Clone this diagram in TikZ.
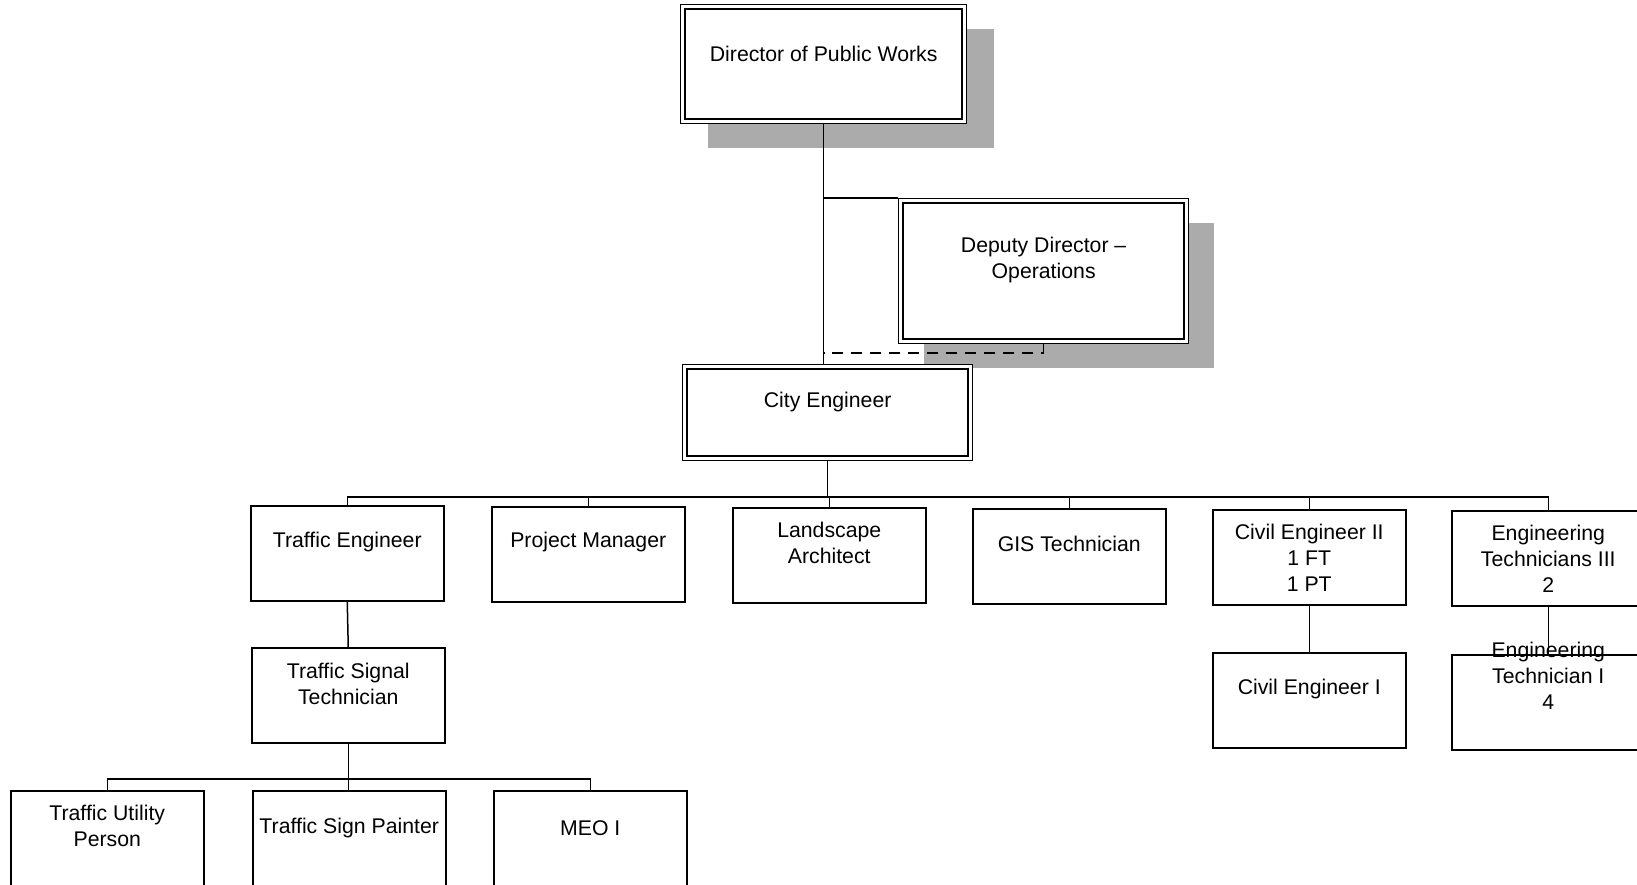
\documentclass[tikz,border=0pt]{standalone}
\usepackage{fontspec}
\setmainfont{Liberation Sans}
\usetikzlibrary{shadows,calc}
\begin{document}
\begin{tikzpicture}[x=1pt,y=-1pt,
  box/.style={draw, line width=1.5pt, fill=white, minimum width=193pt,
    minimum height=95pt, inner sep=0pt, anchor=north west},
  headbox/.style={draw, line width=1.3pt, fill=white, inner sep=0pt, anchor=north west},
  shade/.style={drop shadow={shadow xshift=#1, shadow yshift=-24pt, fill=black!33, opacity=1}},
  lbl/.style={font=\fontsize{21.25pt}{26pt}\selectfont, align=center, inner sep=0pt},
  link/.style={line width=1.5pt}]
\useasboundingbox (0,0) rectangle (1637,885);

% head office boxes (double frame)
\node[headbox, shade=27pt, minimum width=286pt, minimum height=119pt] (dir) at (680,4) {};
\node[headbox, shade=25pt, minimum width=290pt, minimum height=145pt] (dep) at (898,198) {};
\node[headbox, minimum width=290pt, minimum height=96pt] (ce) at (682,364) {};
\foreach \n in {dir,dep,ce}
  \draw[line width=2pt] ([shift={(5pt,-5pt)}]\n.north west) rectangle ([shift={(-5pt,5pt)}]\n.south east);

% second level
\node[box] (te)  at (250,505) {};
\node[box] (pm)  at (491,506) {};
\node[box] (la)  at (732,507) {};
\node[box] (gis) at (972,508) {};
\node[box] (ce2) at (1212,509) {};
\node[box] (et3) at (1451,510) {};

% third level
\node[box] (tst) at (251,647) {};
\node[box] (ce1) at (1212,652) {};
\node[box] (et1) at (1451,654) {};

% fourth level
\node[box] (tup) at (10,790) {};
\node[box] (tsp) at (252,790) {};
\node[box] (meo) at (493,790) {};

% connector helpers
\coordinate (bus1) at (827,497);
\coordinate (bus2) at (348,779);
\coordinate (depin) at (898,198);
\coordinate (dashend) at (825,353);

% connectors
\draw[link] (dir.south) -- (dir.south |- ce.north);
\draw[link] (dir.south |- depin) -- (depin);
\draw[link, dash pattern=on 11pt off 8pt] (dep.south) |- (dir.south |- dashend);
\draw[link] (ce.south) -- (ce.south |- bus1);
\draw[link] (te.north) -- (te.north |- bus1) -- (et3.north |- bus1) -- (et3.north);
\foreach \n in {pm,la,gis,ce2}
  \draw[link] (\n.north) -- (\n.north |- bus1);
\draw[link] (te.south) -- (tst.north);
\draw[link] (ce2.south) -- (ce1.north);
\draw[link] (et3.south) -- (et1.north);
\draw[link] (tst.south) -- (tst.south |- tsp.north);
\draw[link] (tup.north) -- (tup.north |- bus2) -- (meo.north |- bus2) -- (meo.north);

% labels
\node[lbl] (dir-t) at ([yshift=-50pt]dir.north) {Director of Public Works};
\node[lbl] (dep-t) at ([yshift=-62pt]dep.north) {Deputy Director –\\Operations};
\node[lbl] (ce-t)  at ([yshift=-38pt]ce.north)  {City Engineer};
\node[lbl] (te-t)  at ([yshift=-37pt]te.north)  {Traffic Engineer};
\node[lbl] (pm-t)  at ([yshift=-36pt]pm.north)  {Project Manager};
\node[lbl] (la-t)  at ([yshift=-36pt]la.north)  {Landscape\\Architect};
\node[lbl] (gis-t) at ([yshift=-36pt]gis.north) {GIS Technician};
\node[lbl] (ce2-t) at ([yshift=-49pt]ce2.north) {Civil Engineer II\\1 FT\\1 PT};
\node[lbl] (et3-t) at ([yshift=-49pt]et3.north) {Engineering\\Technicians III\\2};
\node[lbl] (tst-t) at ([yshift=-37pt]tst.north) {Traffic Signal\\Technician};
\node[lbl] (ce1-t) at ([yshift=-37pt]ce1.north) {Civil Engineer I};
\node[lbl] (et1-t) at ([yshift=-22pt]et1.north) {Engineering\\Technician I\\4};
\node[lbl] (tup-t) at ([yshift=-36pt]tup.north) {Traffic Utility\\Person};
\node[lbl] (tsp-t) at ([yshift=-38pt]tsp.north) {Traffic Sign Painter};
\node[lbl] (meo-t) at ([yshift=-38pt]meo.north) {MEO I};
\end{tikzpicture}
\end{document}
